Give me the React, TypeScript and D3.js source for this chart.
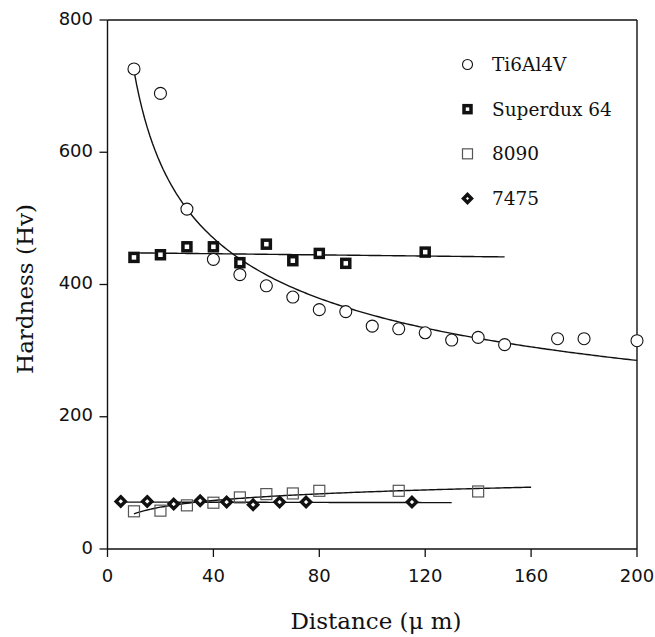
import React from "react";
import * as d3 from "d3";

const W = 655;
const H = 637;
const plot = { left: 107.5, right: 637, top: 20, bottom: 549 };

const xTicks = [0, 40, 80, 120, 160, 200];
const yTicks = [0, 200, 400, 600, 800];

// Hardness traverses (Hv) versus distance from the surface (µm)
const tiDistance = [10, 20, 30, 40, 50, 60, 70, 80, 90, 100, 110, 120, 130, 140, 150, 170, 180, 200];
const tiHardness = [726, 689, 514, 438, 415, 398, 381, 362, 359, 337, 333, 327, 316, 320, 309, 318, 318, 315];

const superduxDistance = [10, 20, 30, 40, 50, 60, 70, 80, 90, 120];
const superduxHardness = [441, 445, 457, 457, 433, 461, 436, 447, 432, 449];

const al8090Distance = [10, 20, 30, 40, 50, 60, 70, 80, 110, 140];
const al8090Hardness = [57, 58, 66, 70, 78, 83, 84, 88, 88, 87];

const al7475Distance = [5, 15, 25, 35, 45, 55, 65, 75, 115];
const al7475Hardness = [72, 72, 68, 73, 71, 67, 71, 71, 71];

// distance range spanned by each trend line
const tiFitRange = [10, 200];
const superduxFitRange = [10, 150];
const al8090FitRange = [10, 160];
const al7475FitRange = [5, 130];

const legendLabels = ["Ti6Al4V", "Superdux 64", "8090", "7475"];

// least-squares helpers
function leastSquares(xs: number[], ys: number[]) {
  const mx = d3.mean(xs) as number;
  const my = d3.mean(ys) as number;
  let sxy = 0;
  let sxx = 0;
  xs.forEach((x, i) => {
    sxy += (x - mx) * (ys[i] - my);
    sxx += (x - mx) * (x - mx);
  });
  const b = sxy / sxx;
  return { a: my - b * mx, b };
}
function linearFit(xs: number[], ys: number[]) {
  const { a, b } = leastSquares(xs, ys);
  return (x: number) => a + b * x;
}
function logFit(xs: number[], ys: number[]) {
  const { a, b } = leastSquares(xs.map(Math.log), ys);
  return (x: number) => a + b * Math.log(x);
}
function powerFit(xs: number[], ys: number[]) {
  const { a, b } = leastSquares(xs.map(Math.log), ys.map(Math.log));
  return (x: number) => Math.exp(a) * Math.pow(x, b);
}

const x = d3.scaleLinear().domain([0, 200]).range([plot.left, plot.right]);
const y = d3.scaleLinear().domain([0, 800]).range([plot.bottom, plot.top]);

function fitPath(range: number[], f: (v: number) => number) {
  const xs = d3.range(range[0], range[1], 1).concat([range[1]]);
  const line = d3
    .line<number>()
    .x((d) => x(d))
    .y((d) => y(f(d)));
  return line(xs) || "";
}

const ink = "#111";
const grey = "#555";

function Circle({ cx, cy, r = 6 }: { cx: number; cy: number; r?: number }) {
  return <circle cx={cx} cy={cy} r={r} fill="white" stroke={ink} strokeWidth={1.1} />;
}
function BoldSquare({ cx, cy, s = 8 }: { cx: number; cy: number; s?: number }) {
  return (
    <rect x={cx - s / 2} y={cy - s / 2} width={s} height={s} fill="white" stroke={ink} strokeWidth={3.5} />
  );
}
function OpenSquare({ cx, cy, s = 11 }: { cx: number; cy: number; s?: number }) {
  return (
    <rect x={cx - s / 2} y={cy - s / 2} width={s} height={s} fill="none" stroke={grey} strokeWidth={1.2} />
  );
}
function Diamond({ cx, cy, h = 4.6 }: { cx: number; cy: number; h?: number }) {
  const p = `M${cx},${cy - h}L${cx + h},${cy}L${cx},${cy + h}L${cx - h},${cy}Z`;
  return <path d={p} fill="white" stroke={ink} strokeWidth={3.4} strokeLinejoin="miter" />;
}

export default function App() {
  const tiF = powerFit(tiDistance, tiHardness);
  const supF = linearFit(superduxDistance, superduxHardness);
  const a8F = logFit(al8090Distance, al8090Hardness);
  const a7F = linearFit(al7475Distance, al7475Hardness);

  const tickFont = "'DejaVu Sans', sans-serif";
  const serif = "'DejaVu Serif', serif";

  const legendX = 467.5;
  const legendTextX = 492;
  const legendY = d3.scalePoint<string>().domain(legendLabels).range([64.5, 198.5]);

  return (
    <svg
      width={W}
      height={H}
      viewBox={`0 0 ${W} ${H}`}
      style={{ position: "absolute", left: 0, top: 0, background: "white" }}
    >
      <rect x={0} y={0} width={W} height={H} fill="white" />

      {/* frame */}
      <g stroke={ink} strokeWidth={1.4} fill="none">
        <line x1={plot.left} y1={plot.top} x2={plot.right} y2={plot.top} />
        <line x1={plot.right} y1={plot.top} x2={plot.right} y2={plot.bottom} />
        <line x1={plot.left} y1={plot.top} x2={plot.left} y2={plot.bottom} />
        <line x1={plot.left} y1={plot.bottom} x2={plot.right} y2={plot.bottom} />
      </g>

      {/* y axis */}
      <g>
        {yTicks.map((t) => (
          <g key={t}>
            <line x1={plot.left - 8} x2={plot.left} y1={y(t)} y2={y(t)} stroke={ink} strokeWidth={1.3} />
            <text x={93} y={y(t) + 4.5} textAnchor="end" fontFamily={tickFont} fontSize={18} fill={ink}>
              {t}
            </text>
          </g>
        ))}
      </g>

      {/* x axis */}
      <g>
        {xTicks.map((t) => (
          <g key={t}>
            <line x1={x(t)} x2={x(t)} y1={plot.bottom} y2={plot.bottom + 8} stroke={ink} strokeWidth={1.3} />
            <text x={x(t)} y={581.5} textAnchor="middle" fontFamily={tickFont} fontSize={18} fill={ink}>
              {t}
            </text>
          </g>
        ))}
      </g>

      {/* axis titles */}
      <text x={376} y={629} textAnchor="middle" fontFamily={serif} fontSize={23} fill={ink}>
        Distance (μ m)
      </text>
      <text
        transform={`translate(33,289) rotate(-90)`}
        textAnchor="middle"
        fontFamily={serif}
        fontSize={23}
        fill={ink}
      >
        Hardness (Hv)
      </text>

      {/* trend lines */}
      <g fill="none" stroke={ink} strokeWidth={1.4}>
        <path d={fitPath(tiFitRange, tiF)} />
        <path d={fitPath(superduxFitRange, supF)} />
        <path d={fitPath(al8090FitRange, a8F)} />
        <path d={fitPath(al7475FitRange, a7F)} />
      </g>

      {/* data points */}
      <g>
        {tiDistance.map((d, i) => (
          <Circle key={`ti${i}`} cx={x(d)} cy={y(tiHardness[i])} />
        ))}
        {al7475Distance.map((d, i) => (
          <Diamond key={`a7${i}`} cx={x(d)} cy={y(al7475Hardness[i])} />
        ))}
        {al8090Distance.map((d, i) => (
          <OpenSquare key={`a8${i}`} cx={x(d)} cy={y(al8090Hardness[i])} />
        ))}
        {superduxDistance.map((d, i) => (
          <BoldSquare key={`sd${i}`} cx={x(d)} cy={y(superduxHardness[i])} />
        ))}
      </g>

      {/* legend */}
      <g>
        <Circle cx={legendX} cy={legendY(legendLabels[0]) as number} r={5} />
        <BoldSquare cx={legendX} cy={legendY(legendLabels[1]) as number} s={7} />
        <OpenSquare cx={legendX} cy={legendY(legendLabels[2]) as number} s={10} />
        <Diamond cx={legendX} cy={legendY(legendLabels[3]) as number} h={4} />
        {legendLabels.map((l) => (
          <text
            key={l}
            x={legendTextX}
            y={(legendY(l) as number) + 6.5}
            fontFamily={serif}
            fontSize={18.5}
            fill={ink}
          >
            {l}
          </text>
        ))}
      </g>
    </svg>
  );
}
